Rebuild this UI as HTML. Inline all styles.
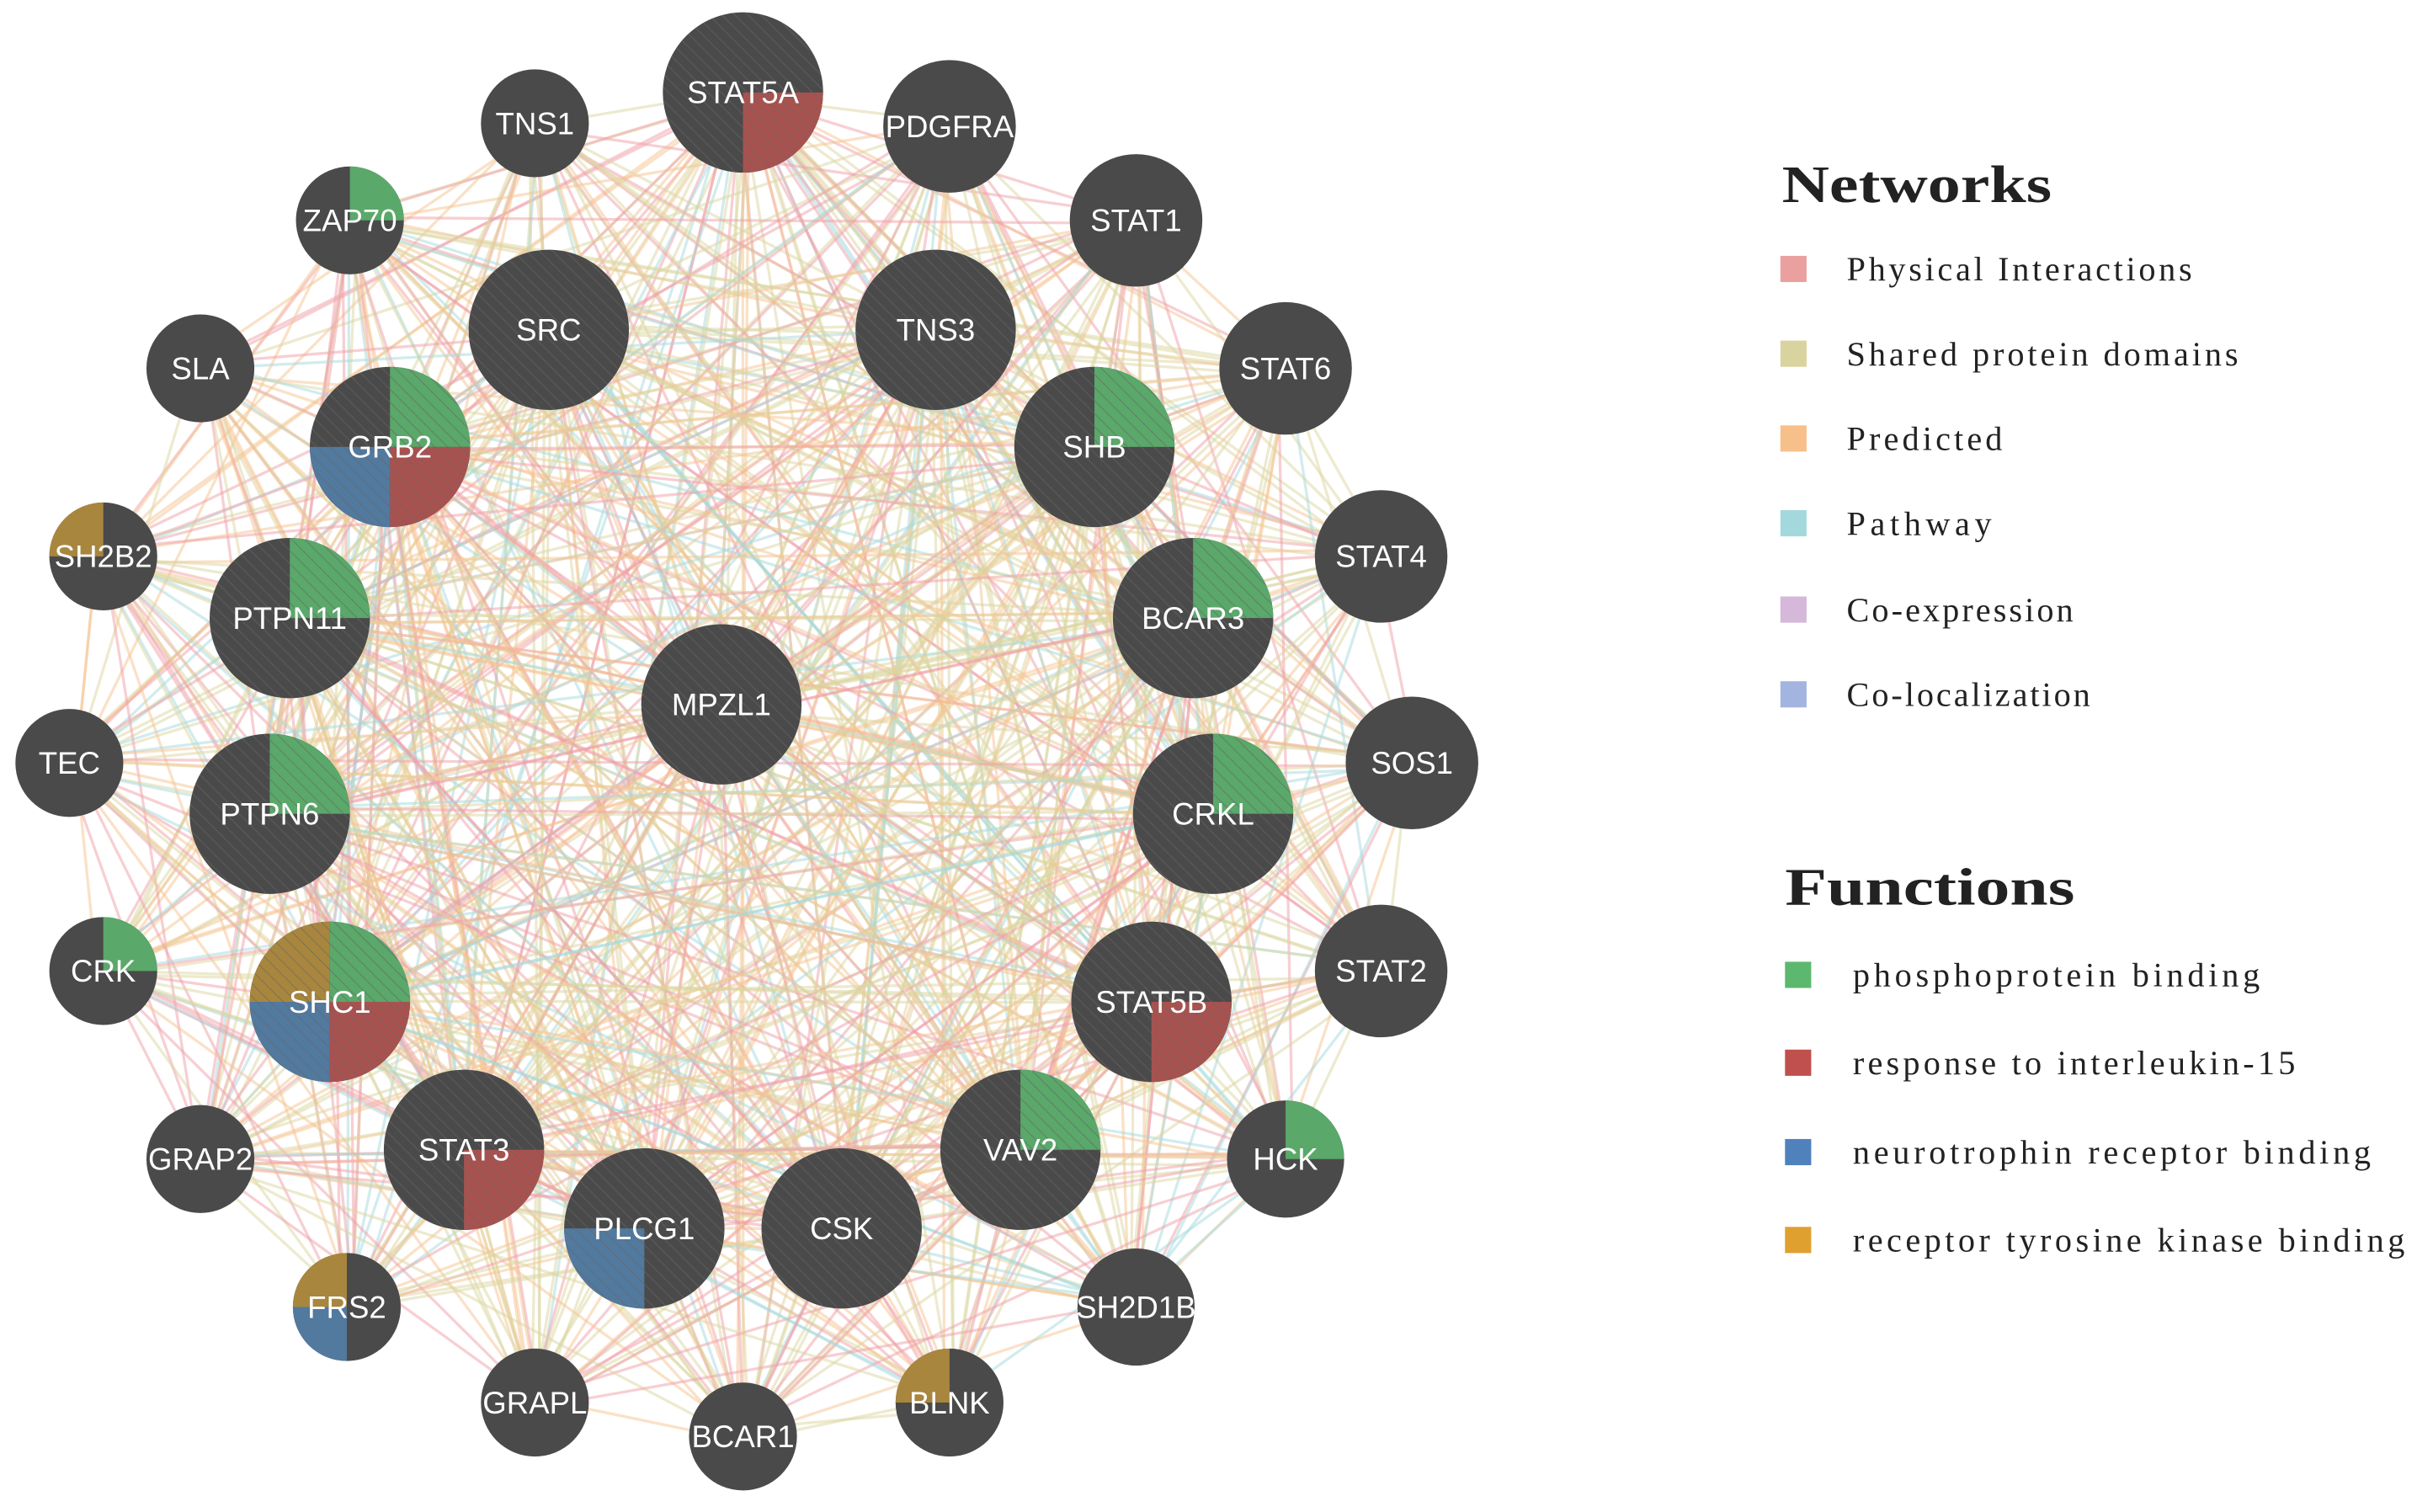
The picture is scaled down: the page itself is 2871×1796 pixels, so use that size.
<!DOCTYPE html>
<html><head><meta charset="utf-8"><style>
html,body{margin:0;padding:0;background:#fff;}
svg{display:block;}
</style></head><body>
<svg id="s" width="2871" height="1796" viewBox="0 0 1568 981" preserveAspectRatio="none" xmlns="http://www.w3.org/2000/svg">
<defs>
<pattern id="h" width="6" height="6" patternUnits="userSpaceOnUse" patternTransform="rotate(-45)">
<rect width="6" height="6" fill="none"/><line x1="0" y1="0" x2="0" y2="6" stroke="#666" stroke-width="1.2"/>
</pattern>
</defs>
<g id="edges"></g>
<g id="nodes"></g>
<g font-family="Liberation Serif, serif" fill="#222">
<text x="1156" y="131" font-size="34" font-weight="bold" textLength="175" lengthAdjust="spacingAndGlyphs">Networks</text>
<rect x="1155" y="166" width="17" height="17" fill="#eba0a0"/><text x="1198" y="182" font-size="22" textLength="224">Physical Interactions</text>
<rect x="1155" y="221" width="17" height="17" fill="#d9d3a0"/><text x="1198" y="237" font-size="22" textLength="254">Shared protein domains</text>
<rect x="1155" y="276" width="17" height="17" fill="#f7c08a"/><text x="1198" y="292" font-size="22" textLength="101">Predicted</text>
<rect x="1155" y="331" width="17" height="17" fill="#a3d9dc"/><text x="1198" y="347" font-size="22" textLength="94">Pathway</text>
<rect x="1155" y="387" width="17" height="17" fill="#d5b8da"/><text x="1198" y="403" font-size="22" textLength="147">Co-expression</text>
<rect x="1155" y="442" width="17" height="17" fill="#a3b4e0"/><text x="1198" y="458" font-size="22" textLength="158">Co-localization</text>
<text x="1158" y="587" font-size="34" font-weight="bold" textLength="188" lengthAdjust="spacingAndGlyphs">Functions</text>
<rect x="1158" y="624" width="17" height="17" fill="#5cb86e"/><text x="1202" y="640" font-size="22" textLength="264">phosphoprotein binding</text>
<rect x="1158" y="681" width="17" height="17" fill="#c0504d"/><text x="1202" y="697" font-size="22" textLength="287">response to interleukin-15</text>
<rect x="1158" y="739" width="17" height="17" fill="#4f81bd"/><text x="1202" y="755" font-size="22" textLength="336">neurotrophin receptor binding</text>
<rect x="1158" y="796" width="17" height="17" fill="#e0a030"/><text x="1202" y="812" font-size="22" textLength="358">receptor tyrosine kinase binding</text>
</g>
</svg>
<script>
var N=[
["STAT5A",482,60,52,"r"],["TNS1",347,80,35,""],["PDGFRA",616,82,43,""],["ZAP70",227,143,35,"g"],
["STAT1",737,143,43,""],["SRC",356,214,52,""],["TNS3",607,214,52,""],["SLA",130,239,35,""],
["STAT6",834,239,43,""],["GRB2",253,290,52,"grb"],["SHB",710,290,52,"g"],["SH2B2",67,361,35,"o"],
["STAT4",896,361,43,""],["PTPN11",188,401,52,"g"],["BCAR3",774,401,52,"g"],["MPZL1",468,457,52,""],
["TEC",45,495,35,""],["SOS1",916,495,43,""],["PTPN6",175,528,52,"g"],["CRKL",787,528,52,"g"],
["CRK",67,630,35,"g"],["SHC1",214,650,52,"grbo"],["STAT5B",747,650,52,"r"],["STAT2",896,630,43,""],
["VAV2",662,746,52,"g"],["HCK",834,752,38,"g"],["STAT3",301,746,52,"r"],["GRAP2",130,752,35,""],
["PLCG1",418,797,52,"b"],["CSK",546,797,52,""],["FRS2",225,848,35,"ob"],["SH2D1B",737,848,38,""],
["GRAPL",347,910,35,""],["BCAR1",482,932,35,""],["BLNK",616,910,35,"o"]];
var ns="http://www.w3.org/2000/svg";
function el(t,a,p){var e=document.createElementNS(ns,t);for(var k in a)e.setAttribute(k,a[k]);p.appendChild(e);return e;}
var seed=7;function rnd(){seed=(seed*16807)%2147483647;return seed/2147483647;}
var E=document.getElementById("edges"),G=document.getElementById("nodes");
var cols=["#f0a0a8","#dcd6a0","#f6c490","#a6dade","#f0a0a8","#dcd6a0","#dcd6a0","#f6c490"];
for(var i=0;i<N.length;i++)for(var j=i+1;j<N.length;j++){
 var p=0.7+(N[i][3]>45?0.3:0)+(N[j][3]>45?0.3:0);
 var c=0;while(rnd()<p&&c<3){c++;p-=0.5;
 var dx=(rnd()-0.5)*10,dy=(rnd()-0.5)*10;
 el("line",{x1:N[i][1]+dx,y1:N[i][2]+dy,x2:N[j][1]-dx,y2:N[j][2]-dy,stroke:cols[Math.floor(rnd()*cols.length)],"stroke-width":1.8,"stroke-opacity":0.5},E);}
}
var C={g:"#5aa86a",r:"#a85250",b:"#52799e",o:"#a8863e"};
var Q={g:[-90,0],r:[0,90],b:[90,180],o:[180,270]};
N.forEach(function(n){
 var x=n[1],y=n[2],r=n[3];
 el("circle",{cx:x,cy:y,r:r,fill:"#4a4a4a"},G);
 for(var k=0;k<n[4].length;k++){var c=n[4][k],a=Q[c];
  var a0=a[0]*Math.PI/180,a1=a[1]*Math.PI/180;
  el("path",{d:"M"+x+","+y+"L"+(x+r*Math.cos(a0))+","+(y+r*Math.sin(a0))+"A"+r+","+r+" 0 0 1 "+(x+r*Math.cos(a1))+","+(y+r*Math.sin(a1))+"Z",fill:C[c]},G);}
 if(r>45)el("circle",{cx:x,cy:y,r:r,fill:"url(#h)","fill-opacity":0.6},G);
 var t=el("text",{x:x,y:y+7,"text-anchor":"middle","font-family":"Liberation Sans, sans-serif","font-size":20,fill:"#fff"},G);
 t.textContent=n[0];
});
</script>
</body></html>
